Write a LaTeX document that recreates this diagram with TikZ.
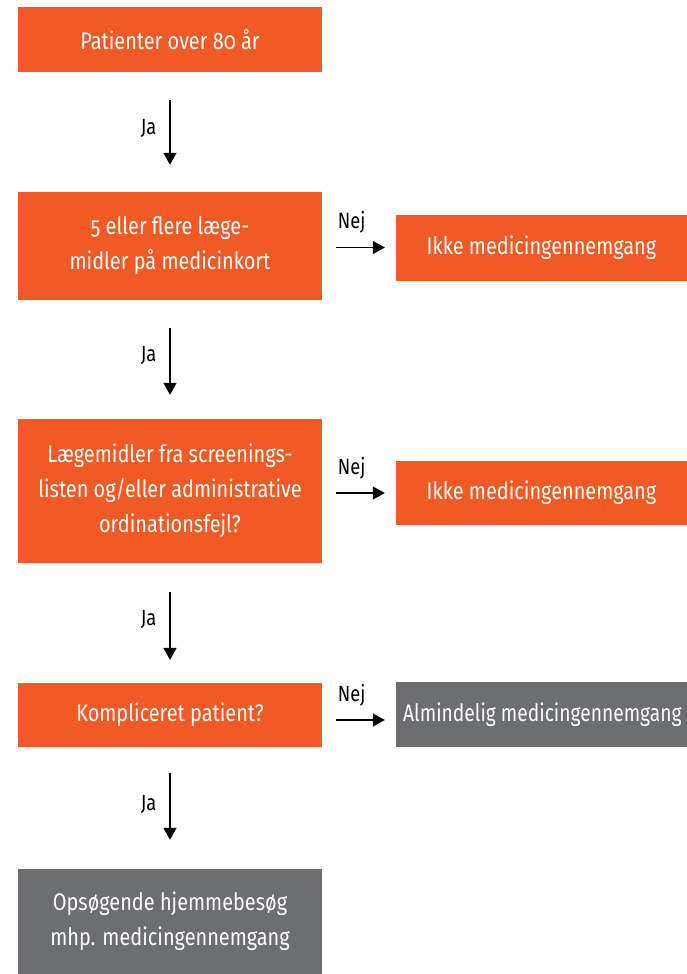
\documentclass[tikz,border=0pt]{standalone}
\usepackage{fontspec}
\setmainfont{Fira Sans}[FakeStretch=0.83,Numbers=OldStyle]
\newfontfamily\narrowfont{Fira Sans}[FakeStretch=0.8,Numbers=OldStyle]
\usetikzlibrary{arrows.meta,calc}
\definecolor{orng}{HTML}{F15A24}
\definecolor{gry}{HTML}{6D6E71}
\begin{document}
\begin{tikzpicture}[x=1pt,y=-1pt,
  box/.style={fill=orng,text=white,draw=none,minimum width=304pt,inner sep=0pt,align=center,
    font=\fontsize{24}{35}\selectfont},
  rbox/.style={box,minimum width=291pt},
  gbox/.style={box,fill=gry},
  flow/.style={draw=black,line width=1.3pt,-{Triangle[width=13pt,length=12pt]}},
  lab/.style={font=\fontsize{22}{26}\selectfont,text=black,inner sep=0pt}]
\useasboundingbox (0,0) rectangle (687,974);
\node[box,minimum height=65pt] (b1) at (170,39.5) {Patienter over 80 år};
\node[box,minimum height=108pt] (b2) at (170,246) {5 eller flere læge-\\midler på medicinkort};
\node[rbox,minimum height=66pt] (b2r) at (541.5,247.5) {Ikke medicingennemgang};
\node[box,minimum height=144pt] (b3) at (170,491) {Lægemidler fra screenings-\\listen og/eller administrative\\ordinationsfejl?};
\node[rbox,minimum height=64pt] (b3r) at (541.5,493) {Ikke medicingennemgang};
\node[box,minimum height=64pt] (b4) at (170,715) {Kompliceret patient?};
\node[gbox,minimum width=300pt,minimum height=65pt] (b4r) at (546,714.5) {};
\node[anchor=west,text=white,inner sep=0pt,font=\narrowfont\fontsize{24}{28}\selectfont] (b4rt) at (403,714.5) {Almindelig medicingennemgang};
\node[gbox,minimum height=105pt] (b5) at (170,921.5) {Opsøgende hjemmebesøg\\mhp. medicingennemgang};
% Ja arrows
\draw[flow,shorten <=28pt,shorten >=27pt] (b1.south) -- (b2.north) node[lab,midway,anchor=east,xshift=-13pt,yshift=4pt] {Ja};
\draw[flow,shorten <=28pt,shorten >=24pt] (b2.south) -- (b3.north) node[lab,midway,anchor=east,xshift=-13pt,yshift=4pt] {Ja};
\draw[flow,shorten <=29pt,shorten >=23pt] (b3.south) -- (b4.north) node[lab,midway,anchor=east,xshift=-13pt,yshift=4pt] {Ja};
\draw[flow,shorten <=26pt,shorten >=29pt] (b4.south) -- (b5.north) node[lab,midway,anchor=east,xshift=-13pt,yshift=4pt] {Ja};
% Nej arrows
\draw[flow,shorten <=14pt,shorten >=11pt] (b2.east |- b2r.west) -- (b2r.west) node[lab,pos=0,anchor=base west,xshift=15pt,yshift=19pt] {Nej};
\draw[flow,shorten <=14pt,shorten >=11pt] (b3.east |- b3r.west) -- (b3r.west) node[lab,pos=0,anchor=base west,xshift=15pt,yshift=19pt] {Nej};
\draw[flow,shorten <=14pt,shorten >=11pt] ([yshift=-5pt]b4.east) -- ([yshift=-5pt]b4.east -| b4r.west) node[lab,pos=0,anchor=base west,xshift=15pt,yshift=19pt] {Nej};
\end{tikzpicture}
\end{document}
